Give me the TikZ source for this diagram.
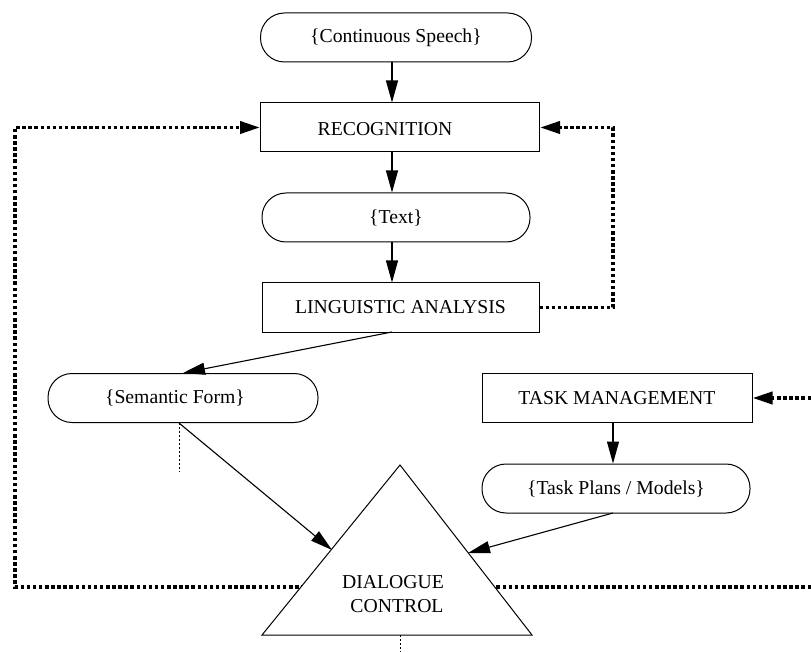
\documentclass[tikz,border=0pt]{standalone}
\usepackage{fontspec}
\setmainfont{Liberation Serif}
\usetikzlibrary{arrows.meta}
\begin{document}
\begin{tikzpicture}[x=1pt,y=-1pt,
  every node/.style={font=\fontsize{19.7}{23}\selectfont, inner sep=0pt},
  term/.style={draw, line width=1pt, rounded corners=24pt, minimum height=49pt},
  proc/.style={draw, line width=1pt, minimum height=49pt},
  arr/.style={line width=1.1pt, -{Triangle[length=22pt,width=12pt]}},
  fb/.style={line width=3.8pt, dash pattern=on 3.5pt off 2.6pt, -{Triangle[length=20pt,width=12pt]}},
  thindot/.style={line width=1pt, dash pattern=on 2pt off 2pt}]
\useasboundingbox (0,0) rectangle (811,652);

% boxes
\node[term, minimum width=271pt] (cs) at (396,37.5) {\{Continuous Speech\}};
\node[proc, minimum width=279pt] (rec) at (400,127.5) {};
\node (rect) at (385,129) {RECOGNITION};
\node[term, minimum width=268pt] (txt) at (396,217.5) {\{Text\}};
\node[proc, minimum width=277pt] (la) at (400.5,307.5) {LINGUISTIC ANALYSIS};
\node[term, minimum width=270pt] (sem) at (183,398) {};
\node (semt) at (175,398) {\{Semantic Form\}};
\node[proc, minimum width=270pt] (tm) at (617,398) {TASK MANAGEMENT};
\node[term, minimum width=268pt] (tp) at (616,488.5) {\{Task Plans / Models\}};

% coordinates
\coordinate (ax) at (392,0);
\coordinate (bx) at (613,0);
\coordinate (rloop) at (613,127.5);
\coordinate (lloopb) at (15,587);
\coordinate (lloopt) at (15,127.5);
\coordinate (rend) at (811,587);
\coordinate (tmin) at (811,398);
\coordinate (semout) at (179,423);
\coordinate (semdot) at (179,472);
\coordinate (laout) at (392,332);
\coordinate (tpout) at (613,513);
\coordinate (tin1) at (332,550);
\coordinate (tin2) at (468,553);
\coordinate (tA) at (400,465);
\coordinate (tL) at (262,635);
\coordinate (tR) at (532,635);
\coordinate (tB) at (400,635);
\coordinate (tBend) at (400,652);

% main flow
\draw[arr] (cs.south -| ax) -- (rec.north -| ax);
\draw[arr] (rec.south -| ax) -- (txt.north -| ax);
\draw[arr] (txt.south -| ax) -- (la.north -| ax);
\draw[arr] (laout) -- (sem.north);
\draw[arr] (tm.south -| bx) -- (tp.north -| bx);

% feedback loops
\draw[fb] (la.east) -| (rloop) -- (rec.east);
\draw[fb] (rend) -- (lloopb) -- (lloopt) -- (rec.west);
\draw[fb] (tmin) -- (tm.east);

% dialogue control triangle
\draw[line width=1pt, fill=white] (tA) -- (tL) -- (tR) -- cycle;
\node (dc1) at (393,582) {DIALOGUE};
\node (dc2) at (397,606) {CONTROL};

\draw[arr] (semout) -- (tin1);
\draw[arr] (tpout) -- (tin2);
\draw[thindot] (semout) -- (semdot);
\draw[thindot] (tB) -- (tBend);
\end{tikzpicture}
\end{document}
